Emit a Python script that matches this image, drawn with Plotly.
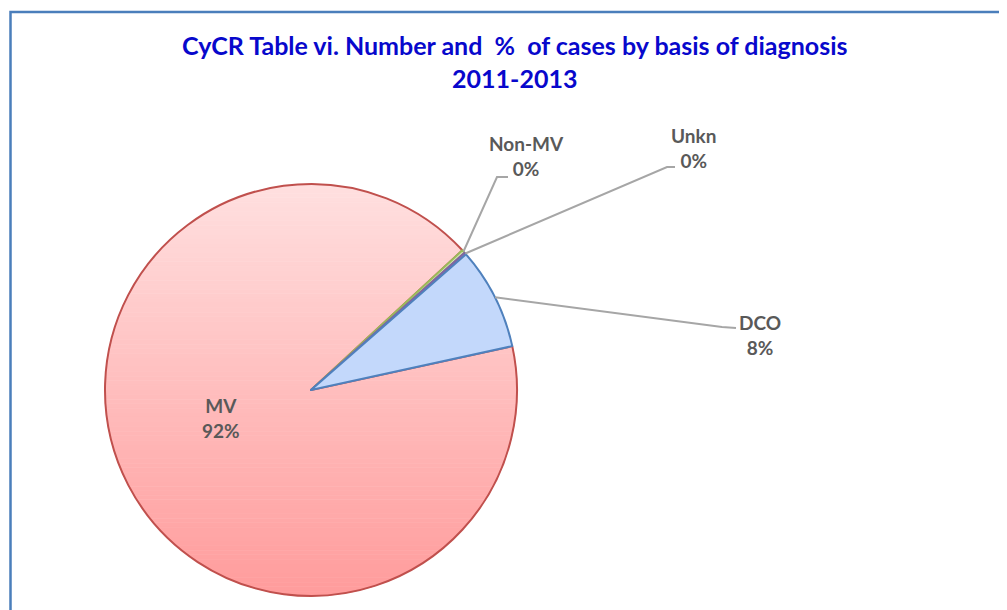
import numpy as np
import plotly.graph_objects as go

# ---- data ----
categories = ["MV", "Non-MV", "Unkn", "DCO"]
cases = [10950, 30, 20, 960]
title_lines = ["CyCR Table vi. Number and&nbsp; %&nbsp; of cases by basis of diagnosis", "2011-2013"]

# ---- layout / style ----
W, H = 1007, 610
OFF = 8  # page body margin offset
cx, cy, R = 311 - OFF, 390 - OFF, 206
rotation = 77.7
fill_colors = ["rgba(0,0,0,0)", "#D7E4BD", "#CCC1DA", "#C3D8FB"]
line_colors = ["#C0504D", "#9BBB59", "#8064A2", "#4F81BD"]
label_pos = {
    "MV": (221, 418, None),
    "Non-MV": (526, 156, ((497, 177), (508, 177))),
    "Unkn": (693, 148, ((667, 167), (675, 167))),
    "DCO": (760, 335, ((722, 327), (736, 328))),
}
LABEL_FONT = dict(family="Lato, 'Open Sans', sans-serif", size=19, color="#595959")

fig = go.Figure()

# vertical gradient under the MV slice (transparent slice on top)
top_rgb = np.array([255, 224, 224])
bot_rgb = np.array([255, 156, 156])
n = 90
for i in range(n):
    y0 = cy - R + 2 * R * i / n
    y1 = cy - R + 2 * R * (i + 1) / n
    ys = np.linspace(y0, y1, 6)
    half = np.sqrt(np.maximum(R ** 2 - (ys - cy) ** 2, 0))
    px = list(cx - half) + list((cx + half)[::-1])
    py = list(ys) + list(ys[::-1])
    t = (i + 0.5) / n
    c = (top_rgb + (bot_rgb - top_rgb) * t).astype(int)
    col = f"rgb({c[0]},{c[1]},{c[2]})"
    fig.add_trace(go.Scatter(x=px, y=py, fill="toself", mode="lines",
                             line=dict(width=1, color=col), fillcolor=col,
                             hoverinfo="skip", showlegend=False))

fig.add_trace(go.Pie(
    labels=categories, values=cases, sort=False, direction="clockwise",
    rotation=rotation,
    marker=dict(colors=fill_colors, line=dict(color=line_colors, width=2)),
    textinfo="none", showlegend=False,
    domain=dict(x=[(cx - R) / W, (cx + R) / W], y=[1 - (cy + R) / H, 1 - (cy - R) / H]),
))

total = sum(cases)
cum = 0
shapes = []
annotations = []
for cat, v in zip(categories, cases):
    mid = np.radians(rotation + 360 * (cum + v / 2) / total)
    cum += v
    sx, sy = cx + R * np.sin(mid), cy - R * np.cos(mid)
    lx, ly, leader = label_pos[cat]
    if leader is not None:
        (ex, ey), (fx, fy) = leader
        shapes.append(dict(type="path", xref="x", yref="y",
                           path=f"M {sx:.1f} {sy:.1f} L {ex - OFF} {ey - OFF} L {fx - OFF} {fy - OFF}",
                           line=dict(color="#A6A6A6", width=2)))
    annotations.append(dict(x=lx - OFF, y=ly - OFF, xref="x", yref="y", showarrow=False,
                            text=f"<b>{cat}</b><br><b>{v / total:.0%}</b>",
                            font=LABEL_FONT, align="center"))

annotations.append(dict(x=514 - OFF, y=61.5 - OFF, xref="x", yref="y", showarrow=False,
                        text="<b>" + title_lines[0] + "</b><br><b>" + title_lines[1] + "</b>",
                        font=dict(family="Lato, 'Open Sans', sans-serif", size=25, color="#0808CC"),
                        align="center"))

# chart frame (cropped)
shapes.append(dict(type="path", xref="x", yref="y",
                   path=f"M {10.5 - OFF} {H + 5} L {10.5 - OFF} {12 - OFF} L {W + 5} {12 - OFF}",
                   line=dict(color="#4A7EBB", width=2.5)))

fig.update_layout(
    width=W, height=H, margin=dict(l=0, r=0, t=0, b=0),
    paper_bgcolor="white", plot_bgcolor="white",
    xaxis=dict(range=[0, W], visible=False, fixedrange=True),
    yaxis=dict(range=[H, 0], visible=False, fixedrange=True),
    shapes=shapes, annotations=annotations,
)

fig.write_html("out.html")
